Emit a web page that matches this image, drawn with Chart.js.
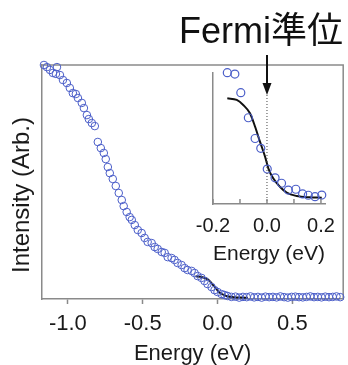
<!DOCTYPE html>
<html><head><meta charset="utf-8">
<script src="https://cdn.jsdelivr.net/npm/chart.js@4"></script>
<style>
html,body{margin:0;padding:0;background:#fff;}
#wrap{position:relative;width:348px;height:365px;overflow:hidden;}
#main{position:absolute;left:0;top:0;}
#inset{position:absolute;left:170px;top:40px;}
</style></head><body>
<div id="wrap"><canvas id="main" width="348" height="365"></canvas><canvas id="inset" width="178" height="240"></canvas></div>
<script>
// ---- data ----
const energy = [-1.160,-1.140,-1.120,-1.100,-1.080,-1.073,-1.053,-1.033,-1.007,-0.987,
 -0.967,-0.947,-0.933,-0.907,-0.893,-0.873,-0.860,-0.840,-0.820,-0.800,
 -0.780,-0.760,-0.747,-0.733,-0.720,-0.700,-0.680,-0.660,-0.640,-0.627,
 -0.607,-0.587,-0.573,-0.553,-0.533,-0.507,-0.487,-0.467,-0.440,-0.420,
 -0.400,-0.373,-0.353,-0.333,-0.307,-0.287,-0.267,-0.240,-0.220,-0.200,
 -0.173,-0.153,-0.133,-0.107,-0.087,-0.067,-0.040,-0.020,0.000,0.027,
 0.047,0.067,0.093,
 0.12,0.145,0.17,0.195,0.22,0.245,0.27,0.295,0.32,0.345,
 0.37,0.395,0.42,0.445,0.47,0.495,0.52,0.545,0.57,0.595,
 0.62,0.645,0.67,0.695,0.72,0.745,0.77,0.795,0.82];
const intensity = [1.000,0.991,0.979,0.966,0.962,0.991,0.957,0.936,0.923,0.902,
 0.880,0.876,0.859,0.838,0.816,0.786,0.769,0.752,0.739,0.671,
 0.645,0.624,0.598,0.564,0.538,0.513,0.483,0.453,0.423,0.397,
 0.372,0.350,0.338,0.316,0.295,0.282,0.261,0.244,0.239,0.222,
 0.214,0.201,0.197,0.179,0.175,0.167,0.154,0.145,0.132,0.124,
 0.120,0.111,0.098,0.090,0.077,0.064,0.051,0.038,0.030,0.021,
 0.017,0.013,0.009,
 0.010,0.006,0.009,0.008,0.011,0.007,0.009,0.006,0.010,0.008,
 0.009,0.007,0.011,0.008,0.006,0.009,0.010,0.008,0.007,0.009,
 0.011,0.008,0.009,0.007,0.010,0.008,0.009,0.011,0.008];
const fitEnergy = [-0.147,-0.112,-0.088,-0.063,-0.044,-0.026,-0.007,0.005,0.023,0.048,0.073,0.110,0.159,0.203];
const fitIntensity = [0.0968,0.0953,0.0907,0.0831,0.0708,0.0571,0.0433,0.0327,0.0235,0.0158,0.0104,0.0073,0.0061,0.0058];
const insetEnergy = [-0.147,-0.119,-0.097,-0.069,-0.044,-0.023,0.001,0.030,0.054,0.079,0.107,0.132,0.153,0.178,0.203];
const insetIntensity = [0.1203,0.119,0.102,0.079,0.060,0.051,0.032,0.024,0.019,0.0128,0.0135,0.0092,0.008,0.0067,0.0082];
const fermiLevel = 0;
const fermiMarkTop = 0.10;
const mainTickValues = [-1.0,-0.5,0.0,0.5];
const mainTickLabels = ['-1.0','-0.5','0.0','0.5'];
const insetTickValues = [-0.2,-0.1,0.0,0.1,0.2];
const insetTickLabels = ['-0.2','','0.0','','0.2'];
const xTitle = 'Energy (eV)';
const yTitle = 'Intensity (Arb.)';
const noteText = 'Fermi準位';

const FONT = '"Liberation Sans", Arial, "Noto Sans CJK JP", sans-serif';
Chart.defaults.font.family = FONT;
Chart.defaults.color = '#1a1a1a';
const BLUE = '#4c5fc9';
const AXIS = '#8a8a8a';
const pts = (xs, ys) => xs.map((x, i) => ({x, y: ys[i]}));

const framePlugin = {
  id: 'frame',
  beforeDatasetsDraw(chart) {
    const {ctx, chartArea: a} = chart;
    ctx.save();
    ctx.strokeStyle = AXIS; ctx.lineWidth = 1.5;
    ctx.beginPath();
    ctx.moveTo(a.left, a.top); ctx.lineTo(a.right, a.top); ctx.lineTo(a.right, a.bottom);
    ctx.stroke();
    ctx.restore();
  },
  afterDraw(chart) {
    const {ctx, chartArea: a} = chart;
    ctx.save();
    // annotation label
    ctx.font = '36px ' + FONT;
    ctx.fillStyle = '#111';
    ctx.textBaseline = 'alphabetic';
    ctx.textAlign = 'left';
    ctx.fillText(noteText, 179, 43);
    // y-axis title (sits a little below the plot's centre in the original)
    ctx.translate(22, (a.top + a.bottom) / 2 + 13);
    ctx.rotate(-Math.PI / 2);
    ctx.font = '24px ' + FONT;
    ctx.fillStyle = '#1a1a1a';
    ctx.textAlign = 'center';
    ctx.textBaseline = 'middle';
    ctx.fillText(yTitle, 0, 0);
    ctx.restore();
  }
};

new Chart(document.getElementById('main'), {
  type: 'scatter',
  data: { datasets: [
    { data: pts(energy, intensity), showLine: false, pointRadius: 3.8, pointHoverRadius: 3.8,
      pointBackgroundColor: 'rgba(0,0,0,0)', pointBorderColor: BLUE, pointBorderWidth: 1, clip: false },
    { data: pts(fitEnergy, fitIntensity), showLine: true, pointRadius: 0, borderColor: '#111',
      borderWidth: 2, cubicInterpolationMode: 'monotone', clip: false }
  ]},
  options: {
    responsive: false, animation: false, devicePixelRatio: 1,
    layout: { padding: { left: 0, top: 65, right: 4, bottom: 0 } },
    plugins: { legend: { display: false }, tooltip: { enabled: false } },
    scales: {
      x: { type: 'linear', min: -1.173, max: 0.84,
        afterBuildTicks: s => { s.ticks = mainTickValues.map(v => ({value: v})); },
        ticks: { font: { size: 22 }, padding: 7, maxRotation: 0, autoSkip: false,
          callback: (v, i) => mainTickLabels[i] },
        grid: { drawOnChartArea: false, drawTicks: true, tickLength: 5, color: AXIS, tickWidth: 1.5 },
        border: { display: true, color: AXIS, width: 1.5 },
        title: { display: true, text: xTitle, font: { size: 22, lineHeight: 1 }, padding: { top: 0, bottom: 0 } },
        afterFit: s => { s.height = 66; }
      },
      y: { min: 0, max: 1,
        ticks: { display: false },
        grid: { drawOnChartArea: false, drawTicks: false },
        border: { display: true, color: AXIS, width: 1.5 },
        title: { display: false, text: yTitle },
        afterFit: s => { s.width = 42; }
      }
    }
  },
  plugins: [framePlugin]
});

const insetPlugin = {
  id: 'insetMarks',
  afterDatasetsDraw(chart) {
    const {ctx, chartArea: a, scales: {x}} = chart;
    ctx.save();
    ctx.strokeStyle = AXIS; ctx.lineWidth = 1.5;
    insetTickValues.forEach(v => {
      const px = x.getPixelForValue(v);
      ctx.beginPath(); ctx.moveTo(px, a.bottom); ctx.lineTo(px, a.bottom - 5); ctx.stroke();
    });
    // arrow to the Fermi level
    const fx = x.getPixelForValue(fermiLevel);
    ctx.strokeStyle = '#111'; ctx.fillStyle = '#111'; ctx.lineWidth = 2;
    ctx.beginPath(); ctx.moveTo(fx, 15); ctx.lineTo(fx, 46); ctx.stroke();
    ctx.beginPath(); ctx.moveTo(fx - 4.5, 43); ctx.lineTo(fx + 4.5, 43); ctx.lineTo(fx, 55); ctx.closePath(); ctx.fill();
    ctx.restore();
  }
};

new Chart(document.getElementById('inset'), {
  type: 'scatter',
  data: { datasets: [
    { data: [{x: fermiLevel, y: 0}, {x: fermiLevel, y: fermiMarkTop}], showLine: true, pointRadius: 0,
      borderColor: '#444', borderWidth: 1, borderDash: [1, 2] },
    { data: pts(insetEnergy, insetIntensity), showLine: false, pointRadius: 4, pointHoverRadius: 4,
      pointBackgroundColor: 'rgba(0,0,0,0)', pointBorderColor: BLUE, pointBorderWidth: 1.2, clip: false },
    { data: pts(fitEnergy, fitIntensity), showLine: true, pointRadius: 0, borderColor: '#111',
      borderWidth: 2, cubicInterpolationMode: 'monotone', clip: false }
  ]},
  options: {
    responsive: false, animation: false, devicePixelRatio: 1,
    layout: { padding: { left: 0, top: 33, right: 23, bottom: 0 } },
    plugins: { legend: { display: false }, tooltip: { enabled: false } },
    scales: {
      x: { type: 'linear', min: -0.2, max: 0.215,
        afterBuildTicks: s => { s.ticks = insetTickValues.map(v => ({value: v})); },
        ticks: { font: { size: 20 }, padding: 10, maxRotation: 0, autoSkip: false,
          callback: (v, i) => insetTickLabels[i] },
        grid: { drawOnChartArea: false, drawTicks: false },
        border: { display: true, color: AXIS, width: 1.5 },
        title: { display: true, text: xTitle, font: { size: 21, lineHeight: 1 }, padding: { top: 0, bottom: 15 } },
        afterFit: s => { s.height = 76; }
      },
      y: { min: 0, max: 0.12,
        ticks: { display: false },
        grid: { drawOnChartArea: false, drawTicks: false },
        border: { display: true, color: AXIS, width: 1.5 },
        afterFit: s => { s.width = 43; }
      }
    }
  },
  plugins: [insetPlugin]
});
</script>
</body></html>
